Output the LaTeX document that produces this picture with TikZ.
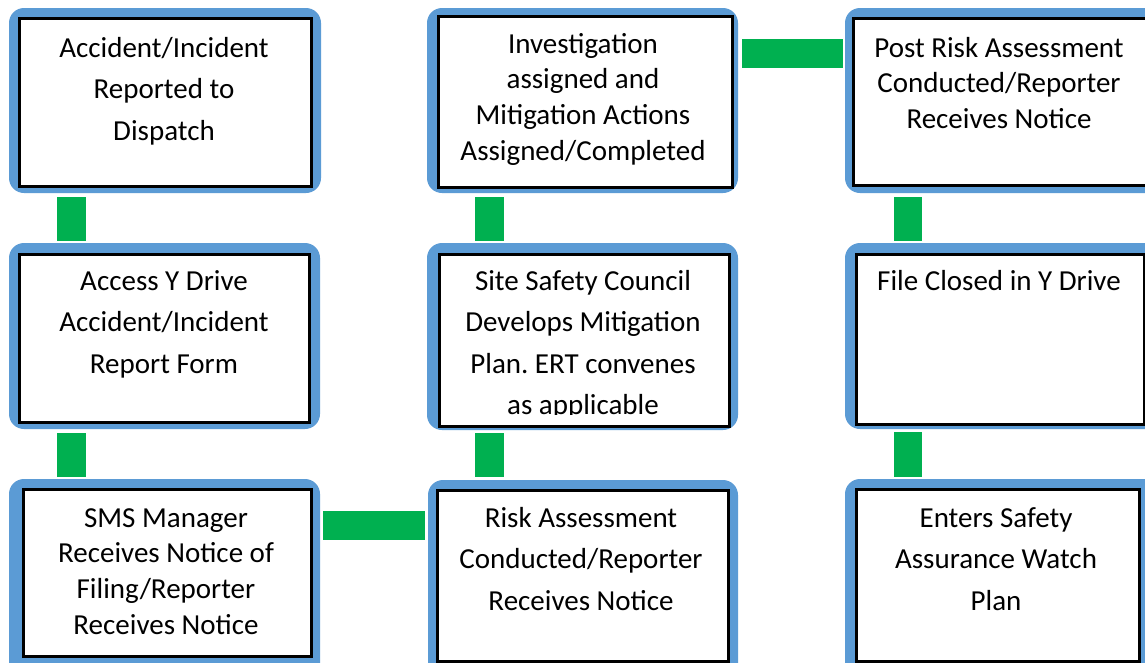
\documentclass[tikz,border=0pt]{standalone}
\usepackage{fontspec}
\setmainfont{Carlito}
\frenchspacing
\definecolor{frameblue}{RGB}{91,155,213}
\definecolor{linkgreen}{RGB}{0,176,80}
\tikzset{
  outerframe/.style={fill=frameblue, rounded corners=15pt},
  innerbox/.style={fill=white, draw=black, line width=2.6pt},
  txtwide/.style={inner sep=0pt, align=center, anchor=north, font=\fontsize{29}{41.5}\selectfont},
  txttight/.style={inner sep=0pt, align=center, anchor=north, font=\fontsize{29}{35.7}\selectfont},
  link/.style={fill=linkgreen, draw=none},
}
\newcommand{\tp}{\rule{0pt}{25pt}}
\begin{document}
\begin{tikzpicture}[x=1pt,y=-1pt]
\useasboundingbox (0,0) rectangle (1145,662);
\clip (0,0) rectangle (1145,662);
\fill[white] (0,0) rectangle (1145,662);

% ---- row 1
\fill[outerframe] (9,8) rectangle (321,193);
\node[innerbox, minimum width=292pt, minimum height=168pt, anchor=north west] (b11) at (18,17) {};
\fill[outerframe] (427,8) rectangle (738,193);
\node[innerbox, minimum width=294pt, minimum height=171pt, anchor=north west] (b12) at (437,15) {};
\fill[outerframe] (845,8) rectangle (1160,193);
\node[innerbox, minimum width=300pt, minimum height=167pt, anchor=north west] (b13) at (852,17) {};

% ---- row 2
\fill[outerframe] (9,243) rectangle (320,429);
\node[innerbox, minimum width=290pt, minimum height=168pt, anchor=north west] (b21) at (18,253) {};
\fill[outerframe] (427,243) rectangle (738,430);
\node[innerbox, minimum width=290pt, minimum height=172pt, anchor=north west] (b22) at (438,253) {};
\fill[outerframe] (845,243) rectangle (1160,429);
\node[innerbox, minimum width=288pt, minimum height=170pt, anchor=north west] (b23) at (855,253) {};

% ---- row 3
\fill[outerframe] (9,479) rectangle (320,680);
\node[innerbox, minimum width=288pt, minimum height=167pt, anchor=north west] (b31) at (22,488) {};
\fill[outerframe] (428,480) rectangle (738,680);
\node[innerbox, minimum width=291pt, minimum height=171pt, anchor=north west] (b32) at (436,489) {};
\fill[outerframe] (845,479) rectangle (1160,680);
\node[innerbox, minimum width=283pt, minimum height=172pt, anchor=north west] (b33) at (855,488) {};

% ---- texts
\node[txtwide] (t11) at (164,57-25) {\tp Accident/Incident\\Reported to\\Dispatch};
\node[txttight] (t12) at (583,53-25) {\tp Investigation\\assigned and\\Mitigation Actions\\Assigned/Completed};
\node[txttight] (t13) at (999,57-25) {\tp Post Risk Assessment\\Conducted/Reporter\\Receives Notice};
\node[txtwide] (t21) at (164,290-25) {\tp Access Y Drive\\Accident/Incident\\Report Form};
\begin{scope}
\clip (438,255) rectangle (727,414);
\node[txtwide] (t22) at (583,290-25) {\tp Site Safety Council\\Develops Mitigation\\Plan. ERT convenes\\as applicable};
\end{scope}
\node[txtwide] (t23) at (999,290-25) {\tp File Closed in Y Drive};
\node[txttight] (t31) at (166,527-25) {\tp SMS Manager\\Receives Notice of\\Filing/Reporter\\Receives Notice};
\node[txtwide] (t32) at (581,527-25) {\tp Risk Assessment\\Conducted/Reporter\\Receives Notice};
\node[txtwide] (t33) at (996,527-25) {\tp Enters Safety\\Assurance Watch\\Plan};

% ---- green links
\coordinate (g1a) at (57,197);  \coordinate (g1b) at (86,241);
\fill[link] (g1a) rectangle (g1b);
\coordinate (g2a) at (57,433);  \coordinate (g2b) at (86,477);
\fill[link] (g2a) rectangle (g2b);
\coordinate (g3a) at (475,197); \coordinate (g3b) at (504,241);
\fill[link] (g3a) rectangle (g3b);
\coordinate (g4a) at (475,433); \coordinate (g4b) at (504,477);
\fill[link] (g4a) rectangle (g4b);
\coordinate (g5a) at (894,197); \coordinate (g5b) at (922,241);
\fill[link] (g5a) rectangle (g5b);
\coordinate (g6a) at (894,432); \coordinate (g6b) at (922,477);
\fill[link] (g6a) rectangle (g6b);
\coordinate (g7a) at (742,39);  \coordinate (g7b) at (843,68);
\fill[link] (g7a) rectangle (g7b);
\coordinate (g8a) at (323,511); \coordinate (g8b) at (425,540);
\fill[link] (g8a) rectangle (g8b);
\end{tikzpicture}
\end{document}
